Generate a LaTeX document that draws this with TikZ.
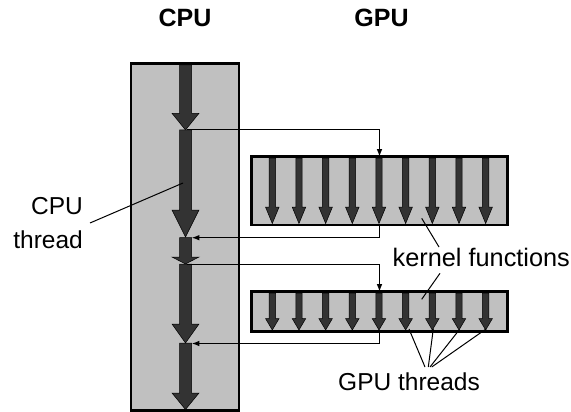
\documentclass[tikz,border=0pt]{standalone}
\usepackage{fontspec}
\setmainfont{Liberation Sans}
\usetikzlibrary{arrows.meta}
\definecolor{boxgray}{HTML}{C0C0C0}
\definecolor{arrdark}{HTML}{333333}
\newcommand\blockarrow[6]{% x, ytop, yhead, ytip, shaft half, head half
  \filldraw[fill=arrdark, draw=black, line width=0.5pt, line join=miter]
    (#1-#5,#2) -- (#1+#5,#2) -- (#1+#5,#3) -- (#1+#6,#3) -- (#1,#4)
    -- (#1-#6,#3) -- (#1-#5,#3) -- cycle;}
\tikzset{
  panel/.style={draw=black, line width=2.6pt, fill=boxgray},
  conn/.style={draw=black, line width=1pt, -{Latex[length=7.5pt,width=5.5pt]}},
  leader/.style={draw=black, line width=1pt},
  title/.style={font=\fontsize{25}{30}\selectfont\bfseries, inner sep=0pt, anchor=base},
  lbl/.style={font=\fontsize{24.5}{29}\selectfont, inner sep=0pt},
}
\begin{document}
\begin{tikzpicture}[x=1pt,y=-1pt]
\useasboundingbox (0,0) rectangle (571,412);
% titles
\node[title] (cputitle) at (185,26.7) {CPU};
\node[title] (gputitle) at (381.5,26.7) {GPU};
% boxes
\draw[panel] (131,63.5) rectangle (239,410.7);
\draw[panel] (251.7,156.7) rectangle (507.7,225);
\draw[panel] (251.7,291.7) rectangle (507.7,331.7);
% CPU arrows
\blockarrow{185.5}{64.8}{113.3}{130}{6}{13.5}
\blockarrow{185.5}{130}{210}{237}{6}{13.5}
\blockarrow{185.5}{237.7}{257}{264}{6}{13.5}
\blockarrow{185.5}{264}{324}{343}{6}{13.5}
\blockarrow{185.5}{343}{393}{409.5}{6}{13.5}
% GPU thread arrows
\foreach \i in {0,...,8}{
  \pgfmathsetmacro\tx{272.3+26.67*\i}
  \blockarrow{\tx}{158}{207}{223.5}{3.2}{6.8}
  \blockarrow{\tx}{293}{318.5}{330}{3.2}{6.8}
}
% connector coordinates
\coordinate (t1) at (186.5,130);
\coordinate (k1top) at (379.5,156.7);
\coordinate (k1bot) at (379.5,225);
\coordinate (r1) at (191.8,237.7);
\coordinate (t3) at (186.5,264);
\coordinate (k2top) at (379.5,291.7);
\coordinate (k2bot) at (379.5,331.7);
\coordinate (r2) at (191.8,343.5);
\draw[conn] (t1) -| (k1top);
\draw[conn] (k1bot) |- (r1);
\draw[conn] (t3) -| (k2top);
\draw[conn] (k2bot) |- (r2);
% labels
\node[lbl, anchor=base east] (cpul1) at (83,214.5) {CPU};
\node[lbl, anchor=base east] (cpul2) at (83,248) {thread};
\node[lbl, anchor=base, font=\fontsize{25.3}{30}\selectfont] (kern) at (481.3,266.7) {kernel functions};
\node[lbl, anchor=base] (gput) at (409,390) {GPU threads};
% leaders
\coordinate (cpuleadA) at (90,223);
\coordinate (cpuleadB) at (183,183);
\draw[leader] (cpuleadA) -- (cpuleadB);
\coordinate (kA) at (421.7,218.3);
\coordinate (kB) at (439,247);
\coordinate (kC) at (440,273.3);
\coordinate (kD) at (421.7,299.3);
\draw[leader] (kA) -- (kB);
\draw[leader] (kC) -- (kD);
\coordinate (gA) at (425,367);
\coordinate (gB) at (428.3,367);
\coordinate (gC) at (430,367);
\coordinate (gD) at (431.7,367);
\draw[leader] (gA) -- (409,329);
\draw[leader] (gB) -- (433.3,329);
\draw[leader] (gC) -- (459.5,329.5);
\draw[leader] (gD) -- (486,329);
\end{tikzpicture}
\end{document}
